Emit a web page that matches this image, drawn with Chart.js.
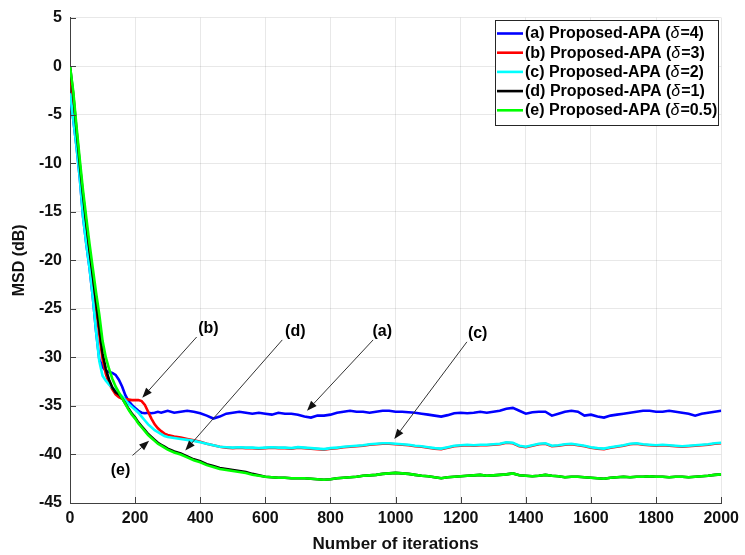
<!DOCTYPE html>
<html><head><meta charset="utf-8">
<script src="https://cdn.jsdelivr.net/npm/chart.js@4.4.1/dist/chart.umd.min.js"></script>
<style>html,body{margin:0;padding:0;background:#fff;}#wrap{width:745px;height:555px;}</style>
</head><body><div id="wrap"><canvas id="c" width="745" height="555"></canvas></div>
<script>
// ---------------- DATA ----------------
const iterations = [0,10,20,30,40,50,60,70,80,90,100,110,120,130,140,150,160,170,180,190,200,210,220,230,240,250,260,270,280,290,300,
 320,340,360,380,400,420,440,460,480,500,520,540,560,580,600,620,640,660,680,700,720,740,760,780,800,820,840,860,880,900,920,940,960,980,1000,
 1020,1040,1060,1080,1100,1120,1140,1160,1180,1200,1220,1240,1260,1280,1300,1320,1340,1360,1380,1400,1420,1440,1460,1480,1500,
 1520,1540,1560,1580,1600,1620,1640,1660,1680,1700,1720,1740,1760,1780,1800,1820,1840,1860,1880,1900,1920,1940,1960,1980,2000];

const msdA = [-2.8,-5.5,-8.3,-11.5,-15.5,-18.3,-20.8,-23.8,-27.3,-30.2,-31.0,-31.4,-31.5,-31.6,-31.8,-32.3,-33.0,-33.9,-34.5,-34.9,-35.2,-35.5,-35.7,-35.75,-35.7,-35.75,-35.7,-35.6,-35.7,-35.6,-35.5,
 -35.7,-35.6,-35.5,-35.6,-35.75,-36.0,-36.3,-36.1,-35.8,-35.7,-35.6,-35.7,-35.8,-35.7,-35.8,-35.9,-35.7,-35.8,-35.8,-35.9,-36.1,-36.2,-36.0,-36.0,-35.9,-35.7,-35.6,-35.5,-35.6,-35.6,-35.7,-35.6,-35.5,-35.5,-35.6,
 -35.6,-35.65,-35.7,-35.8,-35.9,-36.0,-36.1,-35.95,-35.75,-35.7,-35.75,-35.7,-35.6,-35.7,-35.6,-35.5,-35.3,-35.2,-35.5,-35.8,-35.65,-35.6,-35.6,-36.0,-35.8,
 -35.6,-35.5,-35.6,-36.0,-35.9,-36.1,-36.2,-36.0,-35.9,-35.8,-35.7,-35.6,-35.5,-35.5,-35.6,-35.6,-35.5,-35.6,-35.7,-35.8,-36.0,-35.8,-35.7,-35.6,-35.5];

const msdB = [-0.5,-3.5,-7.2,-10.7,-14.0,-17.0,-19.6,-22.2,-24.9,-27.6,-30.2,-31.7,-32.7,-33.3,-33.8,-34.1,-34.25,-34.3,-34.35,-34.4,-34.4,-34.4,-34.5,-34.9,-35.6,-36.3,-36.9,-37.3,-37.6,-37.85,-38.0,
 -38.15,-38.25,-38.4,-38.55,-38.7,-38.9,-39.05,-39.2,-39.3,-39.35,-39.3,-39.35,-39.35,-39.4,-39.35,-39.3,-39.35,-39.35,-39.4,-39.3,-39.35,-39.4,-39.45,-39.5,-39.4,-39.35,-39.25,-39.2,-39.15,-39.1,-39.0,-38.95,-38.9,-38.9,-38.95,
 -39.0,-39.05,-39.15,-39.2,-39.3,-39.4,-39.45,-39.3,-39.15,-39.1,-39.05,-39.1,-39.05,-39.05,-39.0,-38.95,-38.8,-38.85,-39.15,-39.25,-39.1,-38.95,-38.9,-39.15,-39.1,
 -39.0,-38.95,-39.05,-39.15,-39.3,-39.4,-39.45,-39.3,-39.2,-39.1,-38.95,-38.9,-39.0,-39.05,-39.1,-39.05,-39.1,-39.15,-39.2,-39.15,-39.1,-39.05,-39.0,-38.9,-38.85];

const msdC = [-2.8,-5.5,-8.3,-11.5,-15.5,-18.3,-20.8,-23.8,-27.3,-30.4,-31.9,-32.4,-32.8,-33.1,-33.4,-33.7,-34.0,-34.4,-34.8,-35.1,-35.4,-35.7,-36.1,-36.5,-36.9,-37.2,-37.5,-37.7,-37.9,-38.1,-38.2,
 -38.3,-38.4,-38.5,-38.6,-38.75,-38.9,-39.05,-39.2,-39.25,-39.3,-39.25,-39.3,-39.3,-39.35,-39.3,-39.25,-39.3,-39.3,-39.35,-39.25,-39.3,-39.35,-39.4,-39.45,-39.35,-39.3,-39.2,-39.15,-39.1,-39.05,-38.95,-38.9,-38.85,-38.85,-38.9,
 -38.95,-39.0,-39.1,-39.15,-39.25,-39.35,-39.4,-39.25,-39.1,-39.05,-39.0,-39.05,-39.0,-39.0,-38.95,-38.9,-38.75,-38.8,-39.1,-39.2,-39.05,-38.9,-38.85,-39.1,-39.05,
 -38.95,-38.9,-39.0,-39.1,-39.25,-39.35,-39.4,-39.25,-39.15,-39.05,-38.9,-38.85,-38.95,-39.0,-39.05,-39.0,-39.05,-39.1,-39.15,-39.1,-39.05,-39.0,-38.95,-38.85,-38.8];

const msdD = [0,-2.9,-6.6,-10.1,-13.3,-16.2,-19.0,-21.6,-24.3,-27.0,-29.6,-31.2,-32.3,-33.1,-33.6,-33.8,-34.2,-34.75,-35.3,-35.8,-36.2,-36.7,-37.1,-37.5,-37.9,-38.2,-38.5,-38.8,-39.0,-39.2,-39.4,
 -39.7,-39.9,-40.2,-40.5,-40.7,-41.0,-41.2,-41.4,-41.5,-41.6,-41.7,-41.8,-42.0,-42.15,-42.3,-42.35,-42.4,-42.4,-42.45,-42.45,-42.45,-42.5,-42.55,-42.6,-42.55,-42.45,-42.4,-42.35,-42.3,-42.2,-42.15,-42.1,-42.0,-41.95,-41.9,
 -41.95,-42.0,-42.1,-42.2,-42.25,-42.35,-42.45,-42.35,-42.3,-42.25,-42.2,-42.15,-42.1,-42.2,-42.15,-42.1,-42.05,-41.95,-42.15,-42.2,-42.25,-42.2,-42.1,-42.2,-42.25,
 -42.35,-42.3,-42.3,-42.35,-42.4,-42.45,-42.5,-42.4,-42.35,-42.3,-42.35,-42.3,-42.3,-42.25,-42.3,-42.3,-42.35,-42.3,-42.3,-42.35,-42.3,-42.25,-42.2,-42.1,-42.05];

const msdE = [0,-2.6,-6.2,-9.6,-12.8,-15.6,-18.3,-20.8,-23.3,-25.6,-28.3,-30.0,-31.2,-32.2,-33.0,-33.6,-34.2,-34.8,-35.4,-35.9,-36.3,-36.8,-37.2,-37.6,-38.0,-38.3,-38.6,-38.9,-39.1,-39.3,-39.5,
 -39.8,-40.0,-40.3,-40.6,-40.8,-41.1,-41.3,-41.5,-41.6,-41.7,-41.8,-41.9,-42.1,-42.2,-42.3,-42.35,-42.4,-42.4,-42.45,-42.45,-42.45,-42.5,-42.55,-42.6,-42.55,-42.45,-42.4,-42.35,-42.3,-42.2,-42.15,-42.1,-42.0,-41.95,-41.9,
 -41.95,-42.0,-42.1,-42.2,-42.25,-42.35,-42.45,-42.35,-42.3,-42.25,-42.2,-42.15,-42.1,-42.2,-42.15,-42.1,-42.05,-41.95,-42.15,-42.2,-42.25,-42.2,-42.1,-42.2,-42.25,
 -42.35,-42.3,-42.3,-42.35,-42.4,-42.45,-42.5,-42.4,-42.35,-42.3,-42.35,-42.3,-42.3,-42.25,-42.3,-42.3,-42.35,-42.3,-42.3,-42.35,-42.3,-42.25,-42.2,-42.1,-42.05];

const seriesLabels = ['(a) Proposed-APA (δ=4)','(b) Proposed-APA (δ=3)','(c) Proposed-APA (δ=2)','(d) Proposed-APA (δ=1)','(e) Proposed-APA (δ=0.5)'];
const seriesColors = ['#0000ff','#ff0000','#00ffff','#000000','#00ff00'];
const xTicks = [0,200,400,600,800,1000,1200,1400,1600,1800,2000];
const yTicks = [5,0,-5,-10,-15,-20,-25,-30,-35,-40,-45];

// annotation callouts in data units: label centre, arrow tail, arrow tip
const callouts = [
  {text:'(a)', label:[959,-27.3], tail:[931,-28.2], tip:[728,-35.5]},
  {text:'(b)', label:[425,-27.0], tail:[389,-27.9], tip:[222,-34.15]},
  {text:'(c)', label:[1252,-27.5], tail:[1219,-28.4], tip:[996,-38.4]},
  {text:'(d)', label:[692,-27.3], tail:[652,-28.2], tip:[354,-39.6]},
  {text:'(e)', label:[155,-41.7], tail:[192,-40.1], tip:[243,-38.6]}
];

// ---------------- CHART ----------------
const allSeries = [msdA,msdB,msdC,msdD,msdE];
const datasets = allSeries.map((s,k)=>({
  label: seriesLabels[k],
  data: iterations.map((x,i)=>({x:x,y:s[i]})),
  borderColor: seriesColors[k],
  backgroundColor: seriesColors[k],
  borderWidth: 2.6,
  pointRadius: 0,
  tension: 0,
  fill: false,
  order: 5-k
}));

const FONT = '"Liberation Sans", Arial, sans-serif';
const AXIS = '#404040';

const decor = {
  id:'decor',
  afterDraw(chart){
    const ctx = chart.ctx, xs = chart.scales.x, ys = chart.scales.y, ca = chart.chartArea;
    ctx.save();
    // inward ticks
    ctx.strokeStyle = AXIS; ctx.lineWidth = 1;
    xTicks.forEach(v=>{const px=Math.round(xs.getPixelForValue(v))+0.5;ctx.beginPath();ctx.moveTo(px,ca.bottom);ctx.lineTo(px,ca.bottom-6);ctx.stroke();});
    yTicks.forEach(v=>{const py=Math.round(ys.getPixelForValue(v))+0.5;ctx.beginPath();ctx.moveTo(ca.left,py);ctx.lineTo(ca.left+6,py);ctx.stroke();});
    // callouts
    callouts.forEach(c=>{
      const tx=xs.getPixelForValue(c.tail[0]), ty=ys.getPixelForValue(c.tail[1]);
      const hx=xs.getPixelForValue(c.tip[0]), hy=ys.getPixelForValue(c.tip[1]);
      const ang=Math.atan2(hy-ty,hx-tx), L=10, W=3.8;
      const bx=hx-L*Math.cos(ang), by=hy-L*Math.sin(ang);
      ctx.strokeStyle='#333'; ctx.lineWidth=1;
      ctx.beginPath(); ctx.moveTo(tx,ty); ctx.lineTo(bx,by); ctx.stroke();
      ctx.fillStyle='#111';
      ctx.beginPath(); ctx.moveTo(hx,hy);
      ctx.lineTo(bx+W*Math.sin(ang), by-W*Math.cos(ang));
      ctx.lineTo(bx-W*Math.sin(ang), by+W*Math.cos(ang));
      ctx.closePath(); ctx.fill();
      ctx.font='bold 16px '+FONT; ctx.fillStyle='#000'; ctx.textAlign='center'; ctx.textBaseline='middle';
      ctx.fillText(c.text, xs.getPixelForValue(c.label[0]), ys.getPixelForValue(c.label[1]));
    });
    // legend
    const lx=495.5, ly=20.5, lw=223, lh=105;
    ctx.fillStyle='#fff'; ctx.fillRect(lx,ly,lw,lh);
    ctx.strokeStyle='#262626'; ctx.lineWidth=1; ctx.strokeRect(lx,ly,lw,lh);
    chart.data.datasets.forEach((d,i)=>{
      const y = 33.5 + i*19.2;
      ctx.strokeStyle=d.borderColor; ctx.lineWidth=2.6;
      ctx.beginPath(); ctx.moveTo(497,y); ctx.lineTo(523,y); ctx.stroke();
      const parts = d.label.split('δ');
      let x = 525;
      ctx.textAlign='left'; ctx.textBaseline='middle'; ctx.fillStyle='#000';
      ctx.font='bold 16px '+FONT; ctx.fillText(parts[0],x,y+0.5); x+=ctx.measureText(parts[0]).width;
      ctx.font='italic 16px '+FONT; ctx.fillText('δ',x,y+0.5); x+=ctx.measureText('δ').width+1;
      ctx.font='bold 16px '+FONT; ctx.fillText(parts[1],x,y+0.5);
    });
    ctx.restore();
  }
};

new Chart(document.getElementById('c'), {
  type:'line',
  data:{datasets:datasets},
  plugins:[decor],
  options:{
    responsive:false, animation:false, devicePixelRatio:1,
    layout:{padding:{left:0,right:16,top:13,bottom:0}},
    plugins:{legend:{display:false}, tooltip:{enabled:false}},
    scales:{
      x:{type:'linear', min:0, max:2000,
        afterFit(s){s.height=52;},
        afterBuildTicks(s){s.ticks=xTicks.map(v=>({value:v}));},
        ticks:{autoSkip:false, maxRotation:0, padding:6, color:'#111', font:{family:FONT,size:16,weight:'bold'}, callback:(v)=>String(v)},
        grid:{color:'rgba(0,0,0,0.09)', drawTicks:false},
        border:{display:true,color:AXIS,width:1},
        title:{display:true,text:'Number of iterations',color:'#111',font:{family:FONT,size:17,weight:'bold'},padding:{top:2,bottom:0}}
      },
      y:{type:'linear', min:-45, max:5,
        afterFit(s){s.width=70;},
        afterBuildTicks(s){s.ticks=yTicks.map(v=>({value:v}));},
        ticks:{autoSkip:false, padding:8, color:'#111', font:{family:FONT,size:16,weight:'bold'}, callback:(v)=>String(v)},
        grid:{color:'rgba(0,0,0,0.09)', drawTicks:false},
        border:{display:true,color:AXIS,width:1},
        title:{display:true,text:'MSD (dB)',color:'#111',font:{family:FONT,size:16,weight:'bold'},padding:{top:10,bottom:0}}
      }
    }
  }
});
</script></body></html>
